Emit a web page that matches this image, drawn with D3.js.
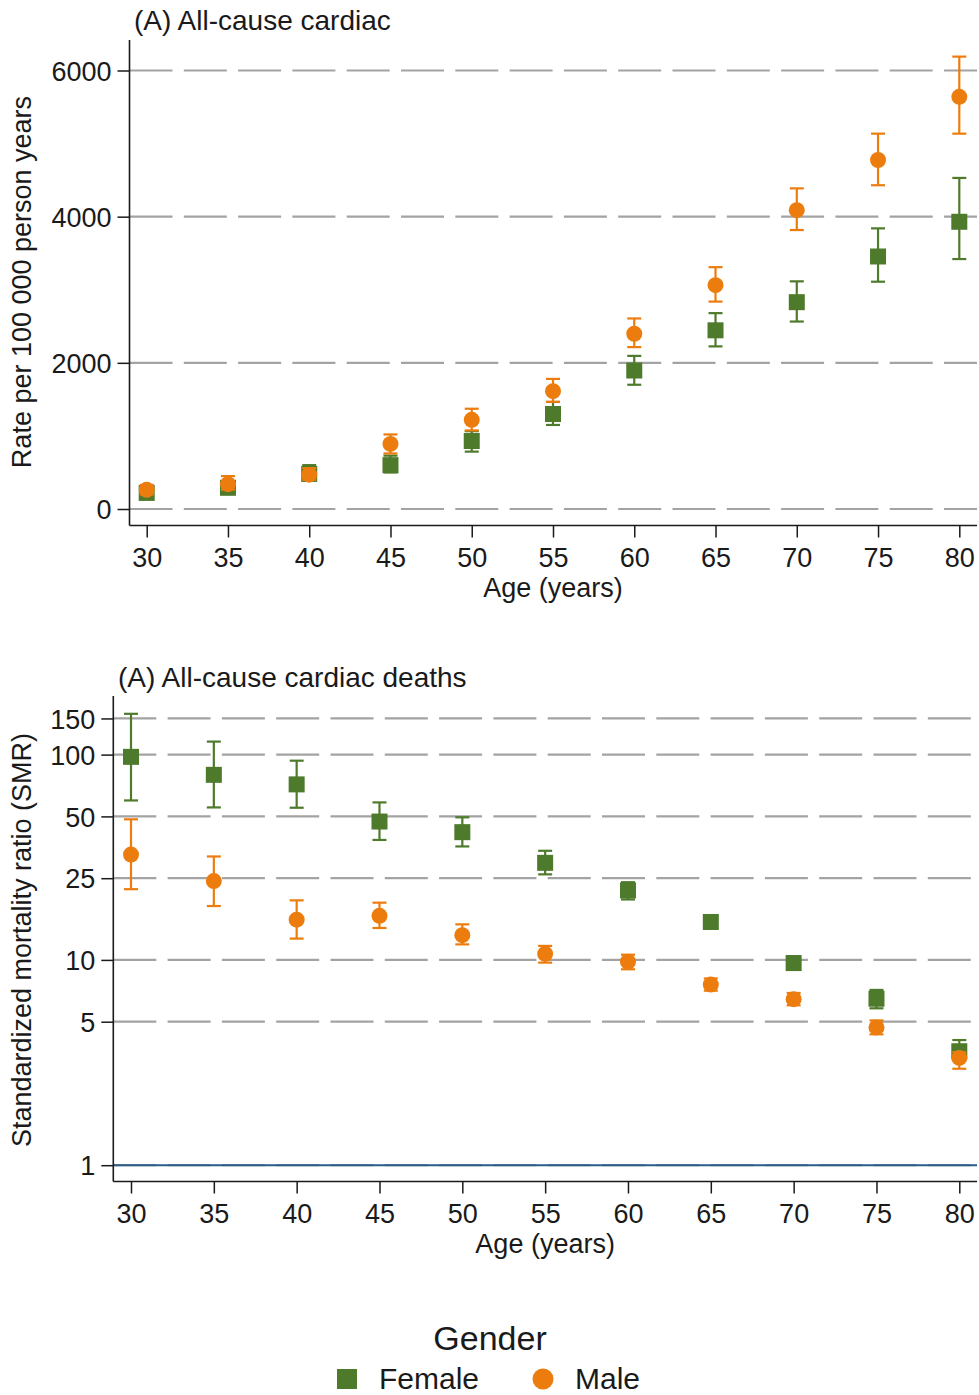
<!DOCTYPE html>
<html>
<head>
<meta charset="utf-8">
<script src="https://cdn.jsdelivr.net/npm/d3@7"></script>
<style>
  html, body { margin: 0; padding: 0; background: #fff; }
  svg { display: block; font-family: "Liberation Sans", Arial, sans-serif; }
</style>
</head>
<body>
<svg id="chart" width="979" height="1395"></svg>
<script>
// Age groups (years)
const ages = [30, 35, 40, 45, 50, 55, 60, 65, 70, 75, 80];

// Panel 1: all-cause cardiac death rate per 100 000 person years
const rateFemale   = [220, 290, 480, 600, 930, 1300, 1895, 2445, 2830, 3455, 3930];
const rateFemaleLo = [170, 230, 400, 500, 785, 1150, 1700, 2225, 2565, 3110, 3420];
const rateFemaleHi = [280, 360, 600, 730, 1065, 1465, 2095, 2680, 3115, 3840, 4530];
const rateMale     = [262, 340, 470, 890, 1220, 1612, 2398, 3063, 4089, 4775, 5640];
const rateMaleLo   = [200, 265, 400, 760, 1075, 1466, 2215, 2838, 3817, 4430, 5136];
const rateMaleHi   = [330, 450, 560, 1020, 1372, 1780, 2607, 3309, 4387, 5136, 6190];
const rateTicks = [0, 2000, 4000, 6000];

// Panel 2: standardized mortality ratio (SMR), log scale
const smrFemale   = [97.5, 79.7, 71.6, 47.2, 41.9, 29.7, 21.8, 15.3, 9.65, 6.47, 3.59];
const smrFemaleLo = [59.8, 55.3, 55.1, 38.4, 35.7, 26.1, 19.7, 14.3, 9.0, 5.81, 3.26];
const smrFemaleHi = [158, 115.7, 93.4, 58.5, 49.5, 34.0, 23.9, 16.4, 10.4, 7.14, 4.07];
const smrMale     = [32.6, 24.2, 15.7, 16.4, 13.2, 10.7, 9.8, 7.58, 6.44, 4.69, 3.33];
const smrMaleLo   = [22.1, 18.3, 12.7, 14.3, 11.9, 9.7, 9.0, 7.08, 6.01, 4.34, 2.95];
const smrMaleHi   = [48.4, 31.9, 19.5, 19.0, 14.9, 11.7, 10.6, 8.12, 6.90, 5.07, 3.55];
const smrTicks = [1, 5, 10, 25, 50, 100, 150];
const smrReference = 1;

// Legend
const genders = ["Female", "Male"];
const colors = { Female: "#4e7a2b", Male: "#ec7c0e" };

const svg = d3.select("#chart");
const textColor = "#1a1a1a";
const fontSize = 27;
const titleSize = 28;

function buildSeries(vals, lo, hi) {
  return ages.map((a, i) => ({ age: a, v: vals[i], lo: lo[i], hi: hi[i] }));
}

function drawPanel(cfg) {
  const g = svg.append("g");
  const x = d3.scaleLinear().domain([30, 80]).range(cfg.xRange);
  const y = cfg.y;

  // dashed horizontal grid
  g.selectAll("line.grid").data(cfg.yTicks).join("line")
    .attr("x1", cfg.axisLeft).attr("x2", cfg.right)
    .attr("y1", d => y(d)).attr("y2", d => y(d))
    .attr("stroke", "#a3a3a3").attr("stroke-width", 2.2)
    .attr("stroke-dasharray", "43,11.3");

  if (cfg.refLine !== undefined) {
    g.append("line")
      .attr("x1", cfg.axisLeft).attr("x2", cfg.right)
      .attr("y1", y(cfg.refLine)).attr("y2", y(cfg.refLine))
      .attr("stroke", "#2b5c8a").attr("stroke-width", 2);
  }

  // y axis
  const yAxis = d3.axisLeft(y).tickValues(cfg.yTicks).tickSize(12).tickPadding(6)
    .tickFormat(cfg.yFormat);
  const ya = g.append("g").attr("transform", `translate(${cfg.axisLeft},0)`).call(yAxis);
  ya.select(".domain").remove();
  ya.selectAll(".tick line").attr("stroke", textColor).attr("stroke-width", 1.5);
  ya.selectAll(".tick text").attr("fill", textColor).attr("font-size", fontSize)
    .attr("dy", "0.36em").style("font-family", "Liberation Sans, Arial, sans-serif");
  g.append("line")
    .attr("x1", cfg.axisLeft).attr("x2", cfg.axisLeft)
    .attr("y1", cfg.axisTop).attr("y2", cfg.axisBottom)
    .attr("stroke", textColor).attr("stroke-width", 1.6);

  // x axis
  const xAxis = d3.axisBottom(x).tickValues(ages).tickSize(12).tickPadding(10)
    .tickFormat(d3.format("d"));
  const xa = g.append("g").attr("transform", `translate(0,${cfg.axisBottom})`).call(xAxis);
  xa.select(".domain").remove();
  xa.selectAll(".tick line").attr("stroke", textColor).attr("stroke-width", 1.5);
  xa.selectAll(".tick text").attr("fill", textColor).attr("font-size", fontSize)
    .style("font-family", "Liberation Sans, Arial, sans-serif");
  g.append("line")
    .attr("x1", cfg.axisLeft).attr("x2", cfg.right)
    .attr("y1", cfg.axisBottom).attr("y2", cfg.axisBottom)
    .attr("stroke", textColor).attr("stroke-width", 1.6);

  // titles
  g.append("text").attr("x", cfg.titleX).attr("y", cfg.titleY)
    .attr("font-size", titleSize).attr("fill", textColor).text(cfg.title);
  g.append("text").attr("x", x(55) + cfg.xTitleShift).attr("y", cfg.xTitleY)
    .attr("text-anchor", "middle").attr("font-size", fontSize).attr("fill", textColor)
    .text("Age (years)");
  g.append("text")
    .attr("transform", `translate(${cfg.yTitleX},${cfg.yTitleY}) rotate(-90)`)
    .attr("text-anchor", "middle").attr("font-size", fontSize).attr("fill", textColor)
    .text(cfg.yTitle);

  // error bars and markers
  cfg.series.forEach(s => {
    const col = colors[s.name];
    const sg = g.append("g");
    sg.selectAll("line.ci").data(s.data).join("line")
      .attr("x1", d => x(d.age)).attr("x2", d => x(d.age))
      .attr("y1", d => y(d.lo)).attr("y2", d => y(d.hi))
      .attr("stroke", col).attr("stroke-width", 2.2);
    ["lo", "hi"].forEach(k => {
      sg.selectAll("line.cap" + k).data(s.data).join("line")
        .attr("x1", d => x(d.age) - 7).attr("x2", d => x(d.age) + 7)
        .attr("y1", d => y(d[k])).attr("y2", d => y(d[k]))
        .attr("stroke", col).attr("stroke-width", 2.2);
    });
    if (s.name === "Female") {
      sg.selectAll("rect").data(s.data).join("rect")
        .attr("x", d => x(d.age) - 8).attr("y", d => y(d.v) - 8)
        .attr("width", 16).attr("height", 16).attr("fill", col);
    } else {
      sg.selectAll("circle").data(s.data).join("circle")
        .attr("cx", d => x(d.age)).attr("cy", d => y(d.v))
        .attr("r", 8).attr("fill", col);
    }
  });
}

// Panel 1
drawPanel({
  y: d3.scaleLinear().domain([0, 6000]).range([509, 70.5]),
  yTicks: rateTicks,
  yFormat: d3.format("d"),
  xRange: [146.7, 959.3],
  axisLeft: 129.5, right: 977, axisTop: 40, axisBottom: 525.5,
  title: "(A) All-cause cardiac", titleX: 134, titleY: 30,
  xTitleY: 597, xTitleShift: 0,
  yTitle: "Rate per 100 000 person years", yTitleX: 31, yTitleY: 282,
  series: [
    { name: "Female", data: buildSeries(rateFemale, rateFemaleLo, rateFemaleHi) },
    { name: "Male", data: buildSeries(rateMale, rateMaleLo, rateMaleHi) }
  ]
});

// Panel 2
drawPanel({
  y: d3.scaleLog().domain([1, 100]).range([1165.2, 754.6]),
  yTicks: smrTicks,
  yFormat: d3.format("d"),
  xRange: [131, 959.3],
  axisLeft: 113.3, right: 977, axisTop: 696, axisBottom: 1181.5,
  refLine: smrReference,
  title: "(A) All-cause cardiac deaths", titleX: 118, titleY: 687,
  xTitleY: 1253, xTitleShift: 0,
  yTitle: "Standardized mortality ratio (SMR)", yTitleX: 31, yTitleY: 940,
  series: [
    { name: "Female", data: buildSeries(smrFemale, smrFemaleLo, smrFemaleHi) },
    { name: "Male", data: buildSeries(smrMale, smrMaleLo, smrMaleHi) }
  ]
});

// Legend
const lg = svg.append("g");
lg.append("text").attr("x", 490).attr("y", 1350).attr("text-anchor", "middle")
  .attr("font-size", 34).attr("fill", textColor).text("Gender");
const legendX = d3.scalePoint().domain(genders).range([347, 543]);
genders.forEach(name => {
  const cx = legendX(name);
  if (name === "Female") {
    lg.append("rect").attr("x", cx - 10).attr("y", 1369).attr("width", 20).attr("height", 20)
      .attr("fill", colors[name]);
  } else {
    lg.append("circle").attr("cx", cx).attr("cy", 1379).attr("r", 10.5).attr("fill", colors[name]);
  }
  lg.append("text").attr("x", cx + 32).attr("y", 1389).attr("font-size", 30)
    .attr("fill", textColor).text(name);
});
</script>
</body>
</html>
